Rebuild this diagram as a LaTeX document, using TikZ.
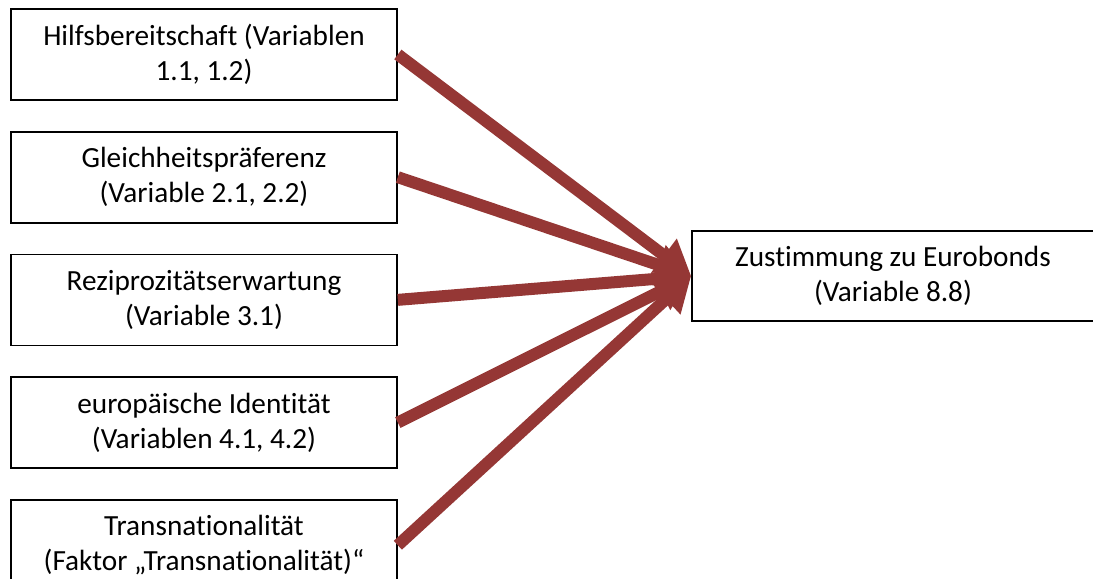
\documentclass[tikz,border=0pt]{standalone}
\usepackage{fontspec}
\setmainfont[Ligatures=NoCommon]{Carlito}
\usepackage{xcolor}
\usepackage{tikz}
\usetikzlibrary{arrows.meta,positioning}
\definecolor{arrowred}{RGB}{149,55,53}

\begin{document}
\begin{tikzpicture}[
      box/.style={draw, line width=1.2pt, minimum width=9.65cm, minimum height=2.275cm,
                  font=\fontsize{20.8}{25}\selectfont, align=center, inner sep=0pt},
      arr/.style={-{Triangle[length=0.85cm, width=1.0cm]}, line width=0.3cm, color=arrowred}
  ]
    \useasboundingbox (0,0) rectangle (27.325,-14.475);
    \node[box] (f1) at (5.1,-1.3625) {Hilfsbereitschaft (Variablen\\1.1, 1.2)};
    \node[box, below=0.75cm of f1] (f2) {Gleichheitspräferenz\\(Variable 2.1, 2.2)};
    \node[box, below=0.75cm of f2] (f3) {Reziprozitätserwartung\\(Variable 3.1)};
    \node[box, below=0.75cm of f3] (f4) {europäische Identität\\(Variablen 4.1, 4.2)};
    \node[box, below=0.75cm of f4] (f5) {Transnationalität\\(Faktor „Transnationalität)“};
    \node[box, minimum width=10.05cm, minimum height=2.25cm] (zu) at (22.325,-6.9)
      {Zustimmung zu Eurobonds\\(Variable 8.8)};
    \foreach \f in {f1,f2,f3,f4,f5}
      \draw[arr] (\f.east)--(zu.west);
  \end{tikzpicture}
\end{document}
